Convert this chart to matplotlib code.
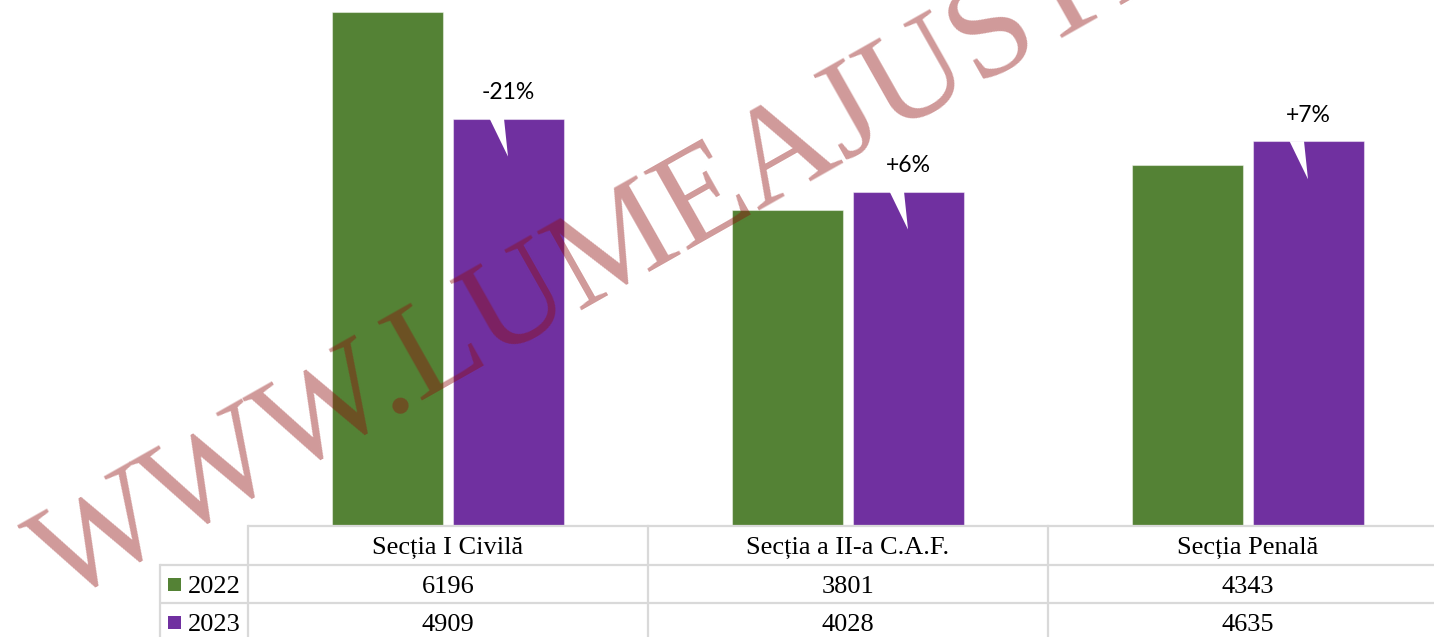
import matplotlib
matplotlib.use('Agg')
import matplotlib.pyplot as plt
from matplotlib.patches import Polygon, Rectangle
import numpy as np

# ---------------- data ----------------
categories = ['Secția I Civilă', 'Secția a II-a C.A.F.', 'Secția Penală']
series_names = ['2022', '2023']
values_2022 = [6196, 3801, 4343]
values_2023 = [4909, 4028, 4635]
change_labels = ['-21%', '+6%', '+7%']
watermark = 'WWW.LUMEAJUSTITIEI.RO'

# ---------------- style ----------------
GREEN = '#548235'
PURPLE = '#7030A0'
GRID = '#d9d9d9'
WM_COLOR = '#8f0c0c'

W, H, DPI = 1434, 637, 100
fig = plt.figure(figsize=(W / DPI, H / DPI), dpi=DPI)

# layout (pixels)
plot_left = 248
col_w = 400
plot_bottom = 525
plot_top = 0
ymax = 6341
n = len(categories)

ax = fig.add_axes([plot_left / W, 1 - plot_bottom / H, n * col_w / W, (plot_bottom - plot_top) / H])
ax.set_xlim(-0.5, n - 0.5)
ax.set_ylim(0, ymax)
ax.axis('off')
ax.set_zorder(1)

x = np.arange(n)
bw = 111 / col_w
off = 60.5 / col_w
ax.bar(x - off, values_2022, bw, color=GREEN, edgecolor=(1, 1, 1, 0.45), linewidth=0.8)
ax.bar(x + off, values_2023, bw, color=PURPLE, edgecolor=(1, 1, 1, 0.45), linewidth=0.8)

ppu = (plot_bottom - plot_top) / ymax  # pixels per unit
for i in range(n):
    cx = x[i] + off
    top = values_2023[i]
    notch = Polygon([(cx - 19 / col_w, top + 1), (cx - 4.5 / col_w, top + 1), (cx - 0.5 / col_w, top - 38 / ppu)],
                    closed=True, facecolor='white', edgecolor='none', zorder=3)
    ax.add_patch(notch)
    ax.annotate(change_labels[i], (cx, top), xytext=(0, 26 * 72 / DPI), textcoords='offset points',
                ha='center', va='center', fontsize=16.5, family='Lato', color='black', zorder=4)

# ---------------- overlay (pixel coordinates) ----------------
ov = fig.add_axes([0, 0, 1, 1])
ov.set_xlim(0, W)
ov.set_ylim(H, 0)
ov.axis('off')
ov.set_zorder(2)
ov.patch.set_visible(False)

row_top = [526, 565, 603]
row_h = 38.5
key_left = 160
lw = 1.6
# horizontal lines
ov.plot([plot_left, W + 20], [row_top[0], row_top[0]], color=GRID, lw=lw, solid_capstyle='butt')
for r in row_top[1:]:
    ov.plot([key_left, W + 20], [r, r], color=GRID, lw=lw, solid_capstyle='butt')
# vertical lines
ov.plot([key_left, key_left], [row_top[1], H + 10], color=GRID, lw=lw)
for i in range(n + 1):
    xv = plot_left + i * col_w
    ov.plot([xv, xv], [row_top[0], H + 10], color=GRID, lw=lw)

tf = dict(family='Liberation Serif', fontsize=19, color='black')
for i, cat in enumerate(categories):
    xc = plot_left + (i + 0.5) * col_w
    ov.text(xc, row_top[0] + row_h / 2 + 8.5, cat, ha='center', va='baseline', **tf)
    ov.text(xc, row_top[1] + row_h / 2 + 8.5, str(values_2022[i]), ha='center', va='baseline', **tf)
    ov.text(xc, row_top[2] + row_h / 2 + 8.5, str(values_2023[i]), ha='center', va='baseline', **tf)

for j, (name, col) in enumerate(zip(series_names, [GREEN, PURPLE])):
    yc = row_top[j + 1] + row_h / 2
    ov.add_patch(Rectangle((168, yc - 6.5), 13, 13, facecolor=col, edgecolor='none'))
    ov.text(187.5, yc + 8.5, name, ha='left', va='baseline', **tf)

# ---------------- watermark ----------------
ov.text(62, 604, watermark, rotation=29.5, rotation_mode='anchor', ha='left', va='baseline',
        fontsize=99, family='Liberation Serif', color=WM_COLOR, alpha=0.42, zorder=10)

fig.savefig('out.png', dpi=DPI)
